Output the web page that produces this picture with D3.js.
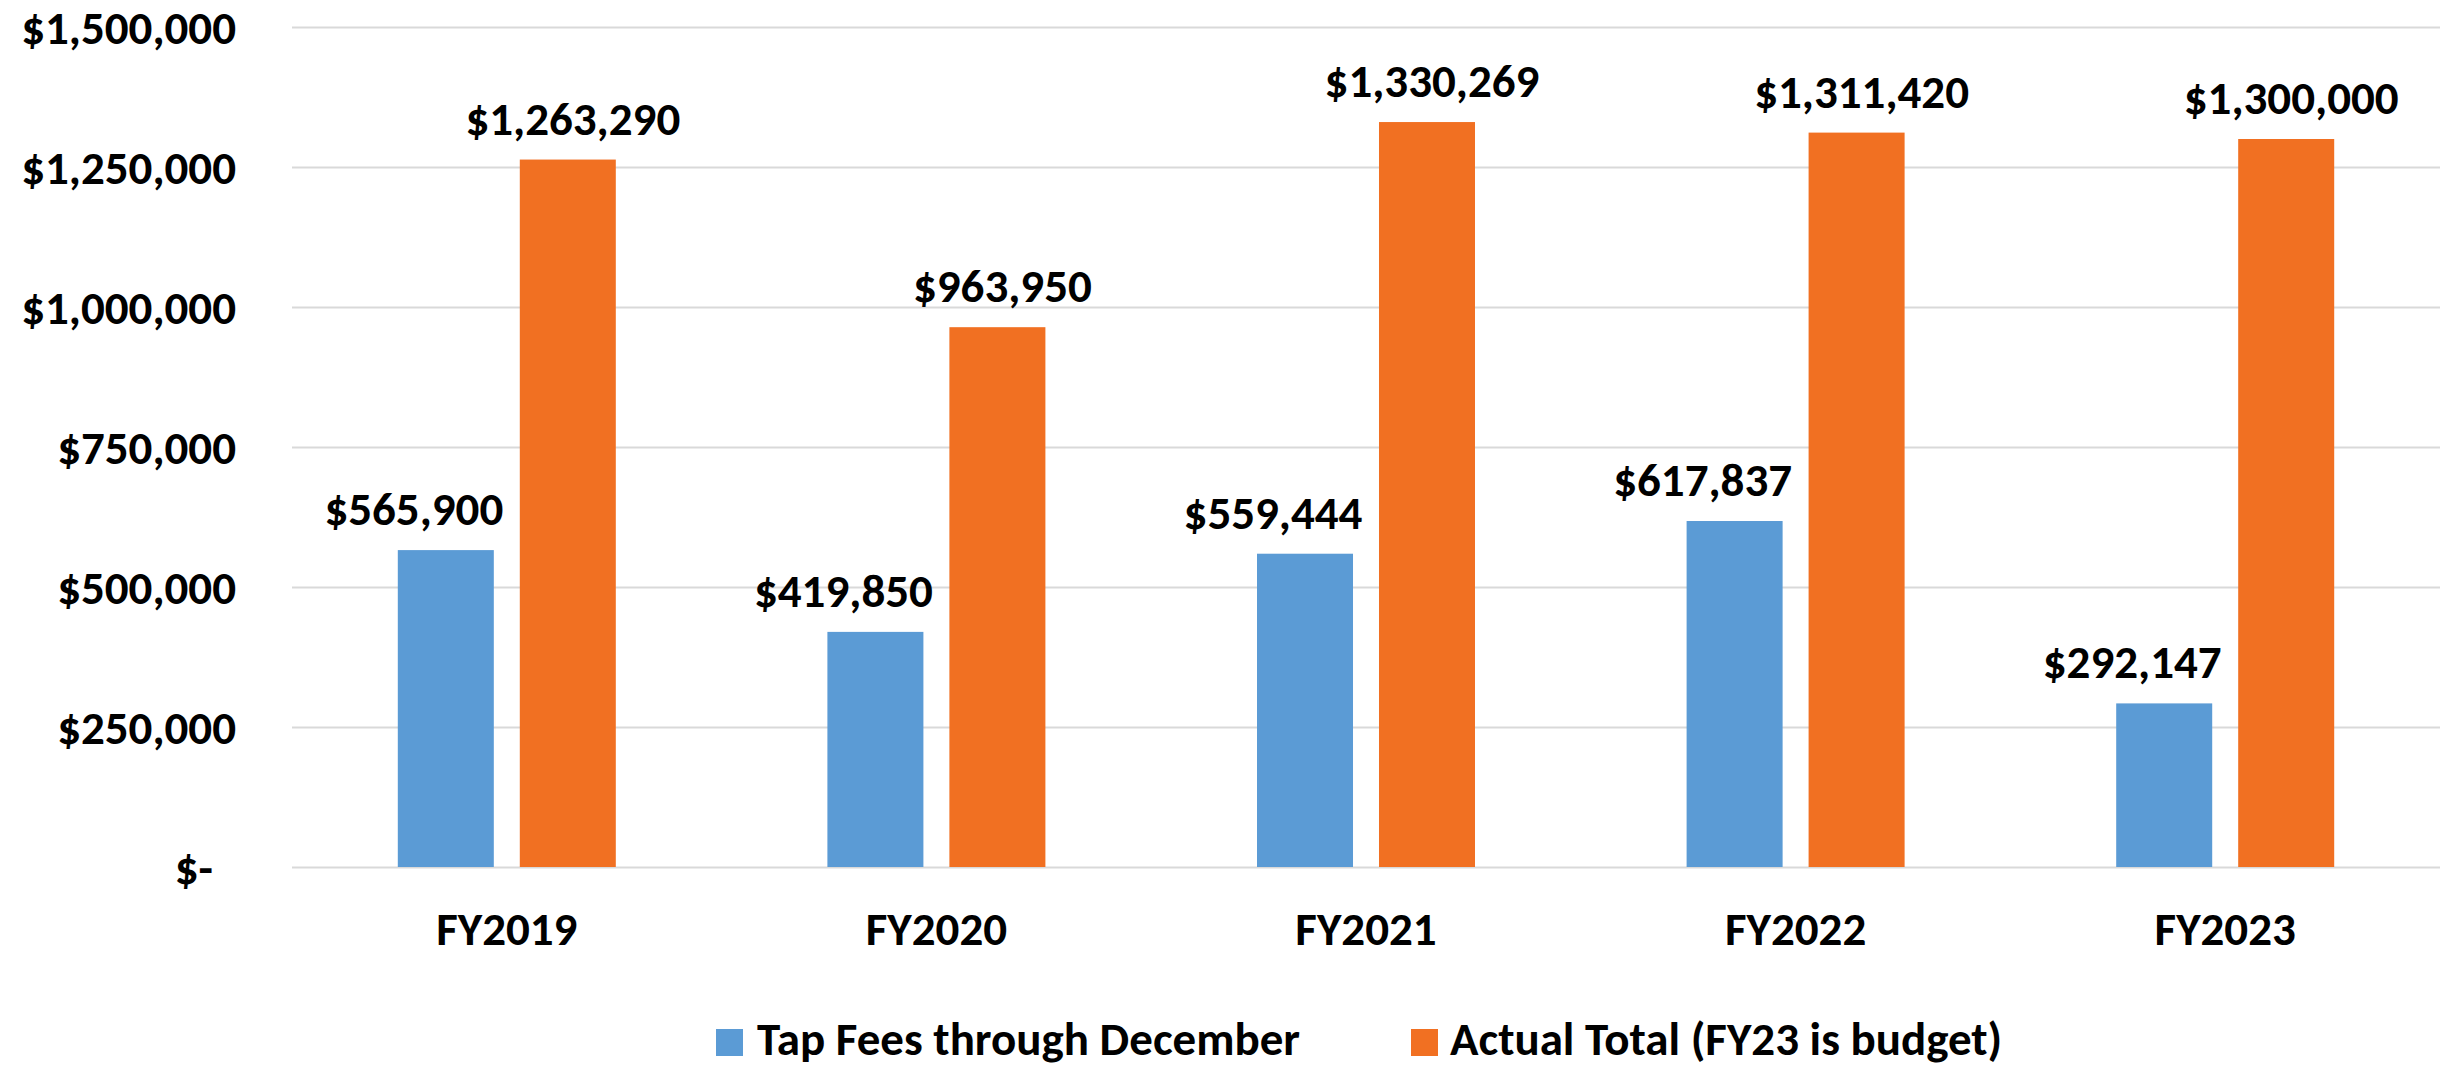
<!DOCTYPE html>
<html>
<head>
<meta charset="utf-8">
<script src="https://cdn.jsdelivr.net/npm/d3@7"></script>
<style>
  html, body { margin: 0; padding: 0; background: #fff; }
  svg { display: block; }
  svg text { font-family: Calibri, Carlito, Lato, sans-serif; font-weight: bold; }
</style>
</head>
<body>
<div id="chart"></div>
<script>
// data
const years = ["FY2019", "FY2020", "FY2021", "FY2022", "FY2023"];
const tapFees = [565900, 419850, 559444, 617837, 292147];
const actualTotal = [1263290, 963950, 1330269, 1311420, 1300000];
const seriesNames = ["Tap Fees through December", "Actual Total (FY23 is budget)"];
const yTicks = [0, 250000, 500000, 750000, 1000000, 1250000, 1500000];

const colors = ["#5B9BD5", "#F17022"];
const labelShift = [-32, 5];   // the value labels sit a bit off the bar centres

const width = 2453, height = 1067;
const plot = { left: 292, right: 2440, top: 27, bottom: 867 };
const fontSize = 47;

const svg = d3.select("#chart").append("svg")
    .attr("width", width)
    .attr("height", height);

const x = d3.scaleBand()
    .domain(years)
    .range([plot.left, plot.right]);

const x1 = d3.scaleBand()
    .domain(d3.range(seriesNames.length))
    .range([-109, 109])
    .paddingInner(0.213);

const y = d3.scaleLinear()
    .domain([0, 1500000])
    .range([plot.bottom, plot.top]);

const money = d3.format("$,");

// y axis + grid
const yAxis = svg.append("g")
    .attr("transform", `translate(${plot.left},0)`)
    .call(d3.axisLeft(y)
        .tickValues(yTicks)
        .tickSizeInner(-(plot.right - plot.left))
        .tickSizeOuter(0)
        .tickPadding(56)
        .tickFormat(d => d === 0 ? "$-" : money(d)));

yAxis.attr("font-family", null).attr("font-size", null);
yAxis.select(".domain").remove();
yAxis.selectAll(".tick line")
    .attr("stroke", "#d9d9d9")
    .attr("stroke-width", 2);
yAxis.selectAll(".tick text")
    .attr("fill", "#000")
    .style("font-size", fontSize + "px")
    .attr("dy", "0.35em")
    .attr("dx", d => d === 0 ? -23 : 0);

// bars
const rows = years.map((yr, i) => ({ year: yr, values: [tapFees[i], actualTotal[i]] }));

const groups = svg.append("g")
    .selectAll("g")
    .data(rows)
    .join("g")
    .attr("transform", d => `translate(${x(d.year) + x.bandwidth() / 2},0)`);

groups.selectAll("rect")
    .data(d => d.values.map((v, s) => ({ v, s })))
    .join("rect")
    .attr("x", d => x1(d.s))
    .attr("width", x1.bandwidth())
    .attr("y", d => y(d.v))
    .attr("height", d => y(0) - y(d.v))
    .attr("fill", d => colors[d.s]);

groups.selectAll("text")
    .data(d => d.values.map((v, s) => ({ v, s })))
    .join("text")
    .attr("x", d => x1(d.s) + x1.bandwidth() / 2 + labelShift[d.s])
    .attr("y", d => y(d.v) - 25)
    .attr("text-anchor", "middle")
    .style("font-size", fontSize + "px")
    .attr("fill", "#000")
    .text(d => money(d.v));

// x axis labels
const xAxis = svg.append("g")
    .attr("transform", `translate(0,${plot.bottom})`)
    .call(d3.axisBottom(x).tickSize(0).tickPadding(0));

xAxis.attr("font-family", null).attr("font-size", null);
xAxis.select(".domain").remove();
xAxis.selectAll(".tick text")
    .attr("fill", "#000")
    .attr("y", 78)
    .attr("dy", 0)
    .style("font-size", fontSize + "px");

// legend
const legendX = [716, 1411];
const legend = svg.append("g")
    .selectAll("g")
    .data(seriesNames)
    .join("g")
    .attr("transform", (d, i) => `translate(${legendX[i]},1029)`);

legend.append("rect")
    .attr("width", 27)
    .attr("height", 27)
    .attr("fill", (d, i) => colors[i]);

legend.append("text")
    .attr("x", (d, i) => i === 0 ? 41 : 39)
    .attr("y", 26)
    .style("font-size", fontSize + "px")
    .attr("fill", "#000")
    .text(d => d);
</script>
</body>
</html>
